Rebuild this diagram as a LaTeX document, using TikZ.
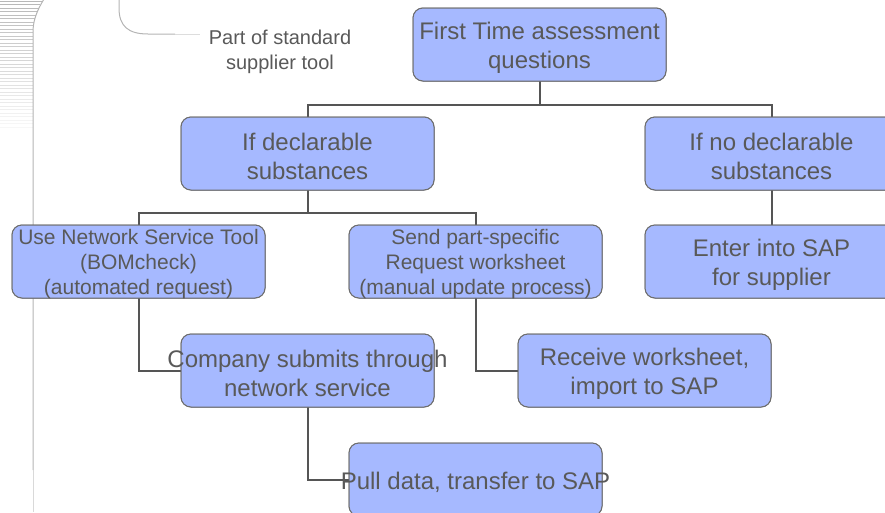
\documentclass[tikz,border=0pt]{standalone}
\usepackage{fontspec}
\setmainfont{Liberation Sans}
\definecolor{boxfill}{RGB}{166,185,255}
\definecolor{boxline}{RGB}{110,110,110}
\definecolor{connc}{RGB}{85,85,85}
\definecolor{txtgray}{RGB}{89,89,89}
\definecolor{decoc}{RGB}{180,180,180}
\begin{document}
\begin{tikzpicture}[x=1pt,y=-1pt,
  box/.style={draw=boxline, line width=1pt, fill=boxfill, rounded corners=10pt,
    minimum width=253pt, minimum height=73pt, inner sep=0pt, outer sep=0pt},
  big/.style={text=txtgray, align=center, inner sep=0pt, yshift=-3pt, font=\fontsize{24}{29}\selectfont},
  small/.style={text=txtgray, align=center, inner sep=0pt, yshift=-3pt, font=\fontsize{21}{25}\selectfont},
  note/.style={text=txtgray, align=center, inner sep=0pt, font=\fontsize{20}{25}\selectfont},
  conn/.style={draw=connc, line width=2pt},
  deco/.style={draw=decoc, line width=1pt}]
\useasboundingbox (0,0) rectangle (885,512);
\clip (0,0) rectangle (885,512);

% decoration at the left
\foreach \i in {0,...,36} {
  \pgfmathsetmacro\yy{\i*3.5+1}
  \pgfmathsetmacro\xe{ifthenelse(\yy<32, 33+10*(1-\yy/32)^2, 33)}
  \pgfmathsetmacro\p{max(3, 28-0.7*\i)}
  \draw[draw=black!\p, line width=0.8pt] (0,\yy) -- (\xe,\yy);
}
\draw[deco] (44,-1) .. controls (36,12) and (33,22) .. (33,32) -- (33,470);
\draw[draw=decoc!50, line width=1pt] (33,470) -- (33,512);

% callout curve
\draw[deco] (119,-1) -- (119,8) .. controls (119,26) and (128,34) .. (148,34) -- (175,34);
\draw[draw=decoc!45, line width=1pt] (175,34) -- (200,34);
\node[note] (cap) at (280,51.5) {Part of standard\\supplier tool};

% connector junctions
\coordinate (j1) at (539.5,105);
\coordinate (j2) at (307.5,213);

% boxes (positions)
\path
  (539.5,44.5) node[box] (top) {}
  (307.5,153.5) node[box] (decl) {}
  (771.5,153.5) node[box] (nodecl) {}
  (138.5,261.5) node[box] (bom) {}
  (475.5,261.5) node[box] (send) {}
  (771.5,261.5) node[box] (enter) {}
  (307.5,370.5) node[box] (company) {}
  (644.5,370.5) node[box] (receive) {}
  (475.5,479.5) node[box] (pull) {};

% connectors
\draw[conn] (top.south) -- (j1);
\draw[conn] (decl.north) |- (j1) -| (nodecl.north);
\draw[conn] (decl.south) -- (j2);
\draw[conn] (bom.north) |- (j2) -| (send.north);
\draw[conn] (nodecl.south) -- (enter.north);
\draw[conn] (bom.south) |- (company.west);
\draw[conn] (send.south) |- (receive.west);
\draw[conn] (company.south) |- (pull.west);

% redraw boxes on top of connectors
\foreach \b in {top,decl,nodecl,bom,send,enter,company,receive,pull} {
  \draw[draw=boxline, line width=1pt, fill=boxfill, rounded corners=10pt]
    (\b.south west) rectangle (\b.north east);
}

% texts
\node[big] (ttop) at (top) {First Time assessment\\questions};
\node[big] (tdecl) at (decl) {If declarable\\substances};
\node[big] (tnodecl) at (nodecl) {If no declarable\\substances};
\node[small] (tbom) at (bom) {Use Network Service Tool\\(BOMcheck)\\(automated request)};
\node[small] (tsend) at (send) {Send part-specific\\Request worksheet\\(manual update process)};
\node[big] (tenter) at (enter) {Enter into SAP\\for supplier};
\node[big] (tcompany) at (company) {Company submits through\\network service};
\node[big] (treceive) at (receive) {Receive worksheet,\\import to SAP};
\node[big] (tpull) at (pull) {Pull data, transfer to SAP};
\end{tikzpicture}
\end{document}
